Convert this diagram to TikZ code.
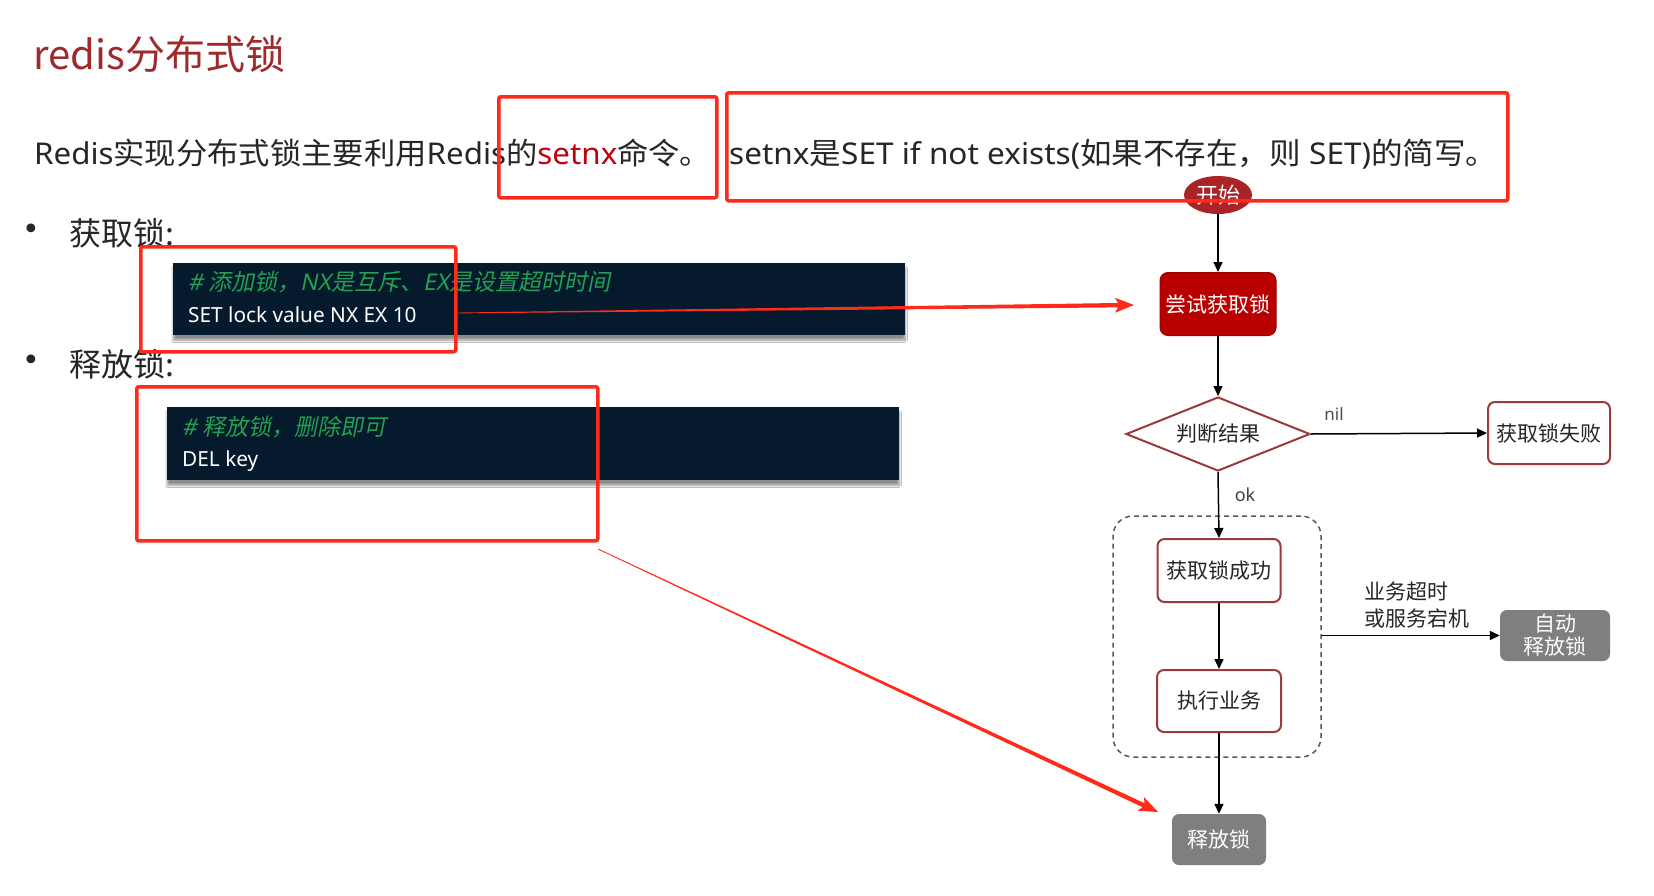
\documentclass[tikz,border=0pt]{standalone}
\usepackage{graphicx}
\usepackage{fontspec}
\setmainfont{Noto Sans CJK SC}
\newfontfamily\slfont[FakeSlant=0.2]{Noto Sans CJK SC}
\newfontfamily\lat{Noto Sans}
\newfontfamily\latsl[FakeSlant=0.2]{Noto Sans}
\newfontfamily\dejavu{DejaVu Sans}
\usetikzlibrary{arrows.meta,shapes.geometric,shadows.blur,calc}
\definecolor{titlered}{HTML}{9E2A2B}
\definecolor{txt}{HTML}{262626}
\definecolor{setred}{HTML}{C00010}
\definecolor{codebg}{HTML}{061A2E}
\definecolor{codegreen}{HTML}{22A150}
\definecolor{markred}{HTML}{FF2A1A}
\definecolor{startred}{HTML}{A82426}
\definecolor{tryred}{HTML}{B80000}
\definecolor{brdred}{HTML}{9B3A3A}
\definecolor{boxgray}{HTML}{7F7F7F}
\newcommand\taparrow[2]{%
  \fill[markred] ($(#1)!0.4pt!90:(#2)$) -- ($(#2)!16pt!(#1)!2.2pt!90:(#2)$) -- ($(#2)!19pt!(#1)!7.5pt!90:(#2)$) -- (#2) -- ($(#2)!19pt!(#1)!7.5pt!-90:(#2)$) -- ($(#2)!16pt!(#1)!2.2pt!-90:(#2)$) -- ($(#1)!0.4pt!-90:(#2)$) -- cycle;}
\begin{document}
\begin{tikzpicture}[x=1pt,y=-1pt,
  flow/.style={-{Triangle[length=10pt,width=9pt]}, line width=1.5pt, black},
  fbox/.style={rectangle, rounded corners=7pt, draw=brdred, line width=2pt, fill=white, text=txt, inner sep=0, font=\fontsize{21}{25}\selectfont},
  graybox/.style={rectangle, rounded corners=7pt, fill=boxgray, text=white, inner sep=0, font=\fontsize{21}{25}\selectfont, align=center},
  marker/.style={draw=markred, line width=3.5pt, rounded corners=2pt, inner sep=0, anchor=north west},
  codebox/.style={fill=codebg, inner sep=0, anchor=north west, blur shadow={shadow xshift=0pt, shadow yshift=-5pt, shadow blur steps=10, shadow opacity=45}},
  cmt/.style={anchor=base west, inner sep=0, text=codegreen, font=\slfont\fontsize{23}{26}\selectfont},
  cmd/.style={anchor=base west, inner sep=0, text=white, font=\lat\fontsize{20.8}{24}\selectfont},
  bul/.style={inner sep=0, text=txt, font=\dejavu\fontsize{30}{34}\selectfont},
  intro/.style={anchor=base west, inner sep=0, text=txt, font=\fontsize{30}{36}\selectfont},
  lbl/.style={inner sep=0, text=txt}
]
\path[use as bounding box, fill=white] (0,0) rectangle (1654,895);

% heading and intro
\node[anchor=base west, inner sep=0, text=titlered, font=\fontsize{40}{48}\selectfont] (title) at (33,69) {redis分布式锁};
\node[intro] (intro1) at (34,164)
  {\resizebox{677pt}{\height}{{\lat Redis}实现分布式锁主要利用{\lat Redis}的\textcolor{setred}{\lat setnx}命令。}};
\node[intro] (intro2) at (729,164)
  {\resizebox{768pt}{\height}{{\lat setnx}是{\lat SET if not exists(}如果不存在，则{\lat\ SET)}的简写。}};

% bullets
\node[bul] (b1) at (31,232) {•};
\node[anchor=base west, inner sep=0, text=txt, font=\fontsize{32}{38}\selectfont] (acq) at (69,245) {获取锁:};
\node[bul] (b2) at (31,363) {•};
\node[anchor=base west, inner sep=0, text=txt, font=\fontsize{32}{38}\selectfont] (rel) at (69,376) {释放锁:};

% code boxes
\node[codebox, minimum width=732pt, minimum height=72pt] (c1) at (173,263) {};
\node[cmt] (c1a) at (188,290) {{\latsl\#} 添加锁，{\latsl NX}是互斥、{\latsl EX}是设置超时时间};
\node[cmd] (c1b) at (188,322) {SET lock value NX EX 10};
\node[codebox, minimum width=732pt, minimum height=73pt] (c2) at (167,407) {};
\node[cmt] (c2a) at (182,435) {{\latsl\#} 释放锁，删除即可};
\node[cmd] (c2b) at (182,466) {DEL key};

% flowchart
\node[ellipse, fill=startred, text=white, minimum width=68pt, minimum height=38pt, inner sep=0, font=\fontsize{22}{26}\selectfont] (start) at (1218,195) {开始};
\node[rectangle, rounded corners=8pt, fill=tryred, draw=tryred!85!black, line width=1pt, text=white, minimum width=116pt, minimum height=63pt, inner sep=0, font=\fontsize{21}{25}\selectfont] (try) at (1218,304) {尝试获取锁};
\node[diamond, aspect=2.5, draw=brdred, line width=2pt, fill=white, minimum width=184pt, minimum height=74pt, inner sep=0, text=txt, font=\fontsize{21}{25}\selectfont] (judge) at (1218,434) {判断结果};
\node[fbox, minimum width=122pt, minimum height=62pt] (fail) at (1549,433) {获取锁失败};
\node[draw=black!65, dash pattern=on 5pt off 4pt, line width=1.5pt, rounded corners=20pt, minimum width=208pt, minimum height=241pt, inner sep=0] (grp) at (1217,636.5) {};
\node[fbox, minimum width=123pt, minimum height=63pt] (succ) at (1219,570.5) {获取锁成功};
\node[fbox, minimum width=124pt, minimum height=62pt] (exec) at (1219,701) {执行业务};
\node[graybox, minimum width=94pt, minimum height=51pt] (release) at (1219,839.5) {释放锁};
\node[graybox, minimum width=110pt, minimum height=51pt, font=\fontsize{21}{23}\selectfont] (auto) at (1555,635.5) {自动\\释放锁};

\draw[flow] (start) -- (try);
\draw[flow] (try) -- (judge);
\draw[flow] (judge.east) -- (fail.west);
\draw[flow] (judge.south) -- (succ.north);
\draw[flow] (succ) -- (exec);
\draw[flow] (exec) -- (release);
\draw[flow] (auto.west -| grp.east) -- (auto.west);

\node[lbl, text=black!70, font=\lat\fontsize{17}{20}\selectfont] (nil) at (1334,414) {nil};
\node[lbl, text=black!75, font=\lat\fontsize{18}{21}\selectfont] (ok) at (1245,495) {ok};
\node[lbl, align=left, font=\fontsize{21}{27}\selectfont, anchor=west] (why) at (1364,605) {业务超时\\或服务宕机};

% red markers
\node[marker, minimum width=218pt, minimum height=101pt] (m1) at (497,95) {};
\node[marker, minimum width=781pt, minimum height=108pt] (m2) at (725,91) {};
\node[marker, minimum width=315pt, minimum height=105pt] (m3) at (139,245) {};
\node[marker, minimum width=461pt, minimum height=154pt] (m4) at (135,385) {};

\coordinate (r1s) at (454,313);
\coordinate (r1t) at (1134,305);
\coordinate (r2s) at (598,549);
\coordinate (r2t) at (1158,812);
\taparrow{r1s}{r1t}
\taparrow{r2s}{r2t}
\end{tikzpicture}
\end{document}
